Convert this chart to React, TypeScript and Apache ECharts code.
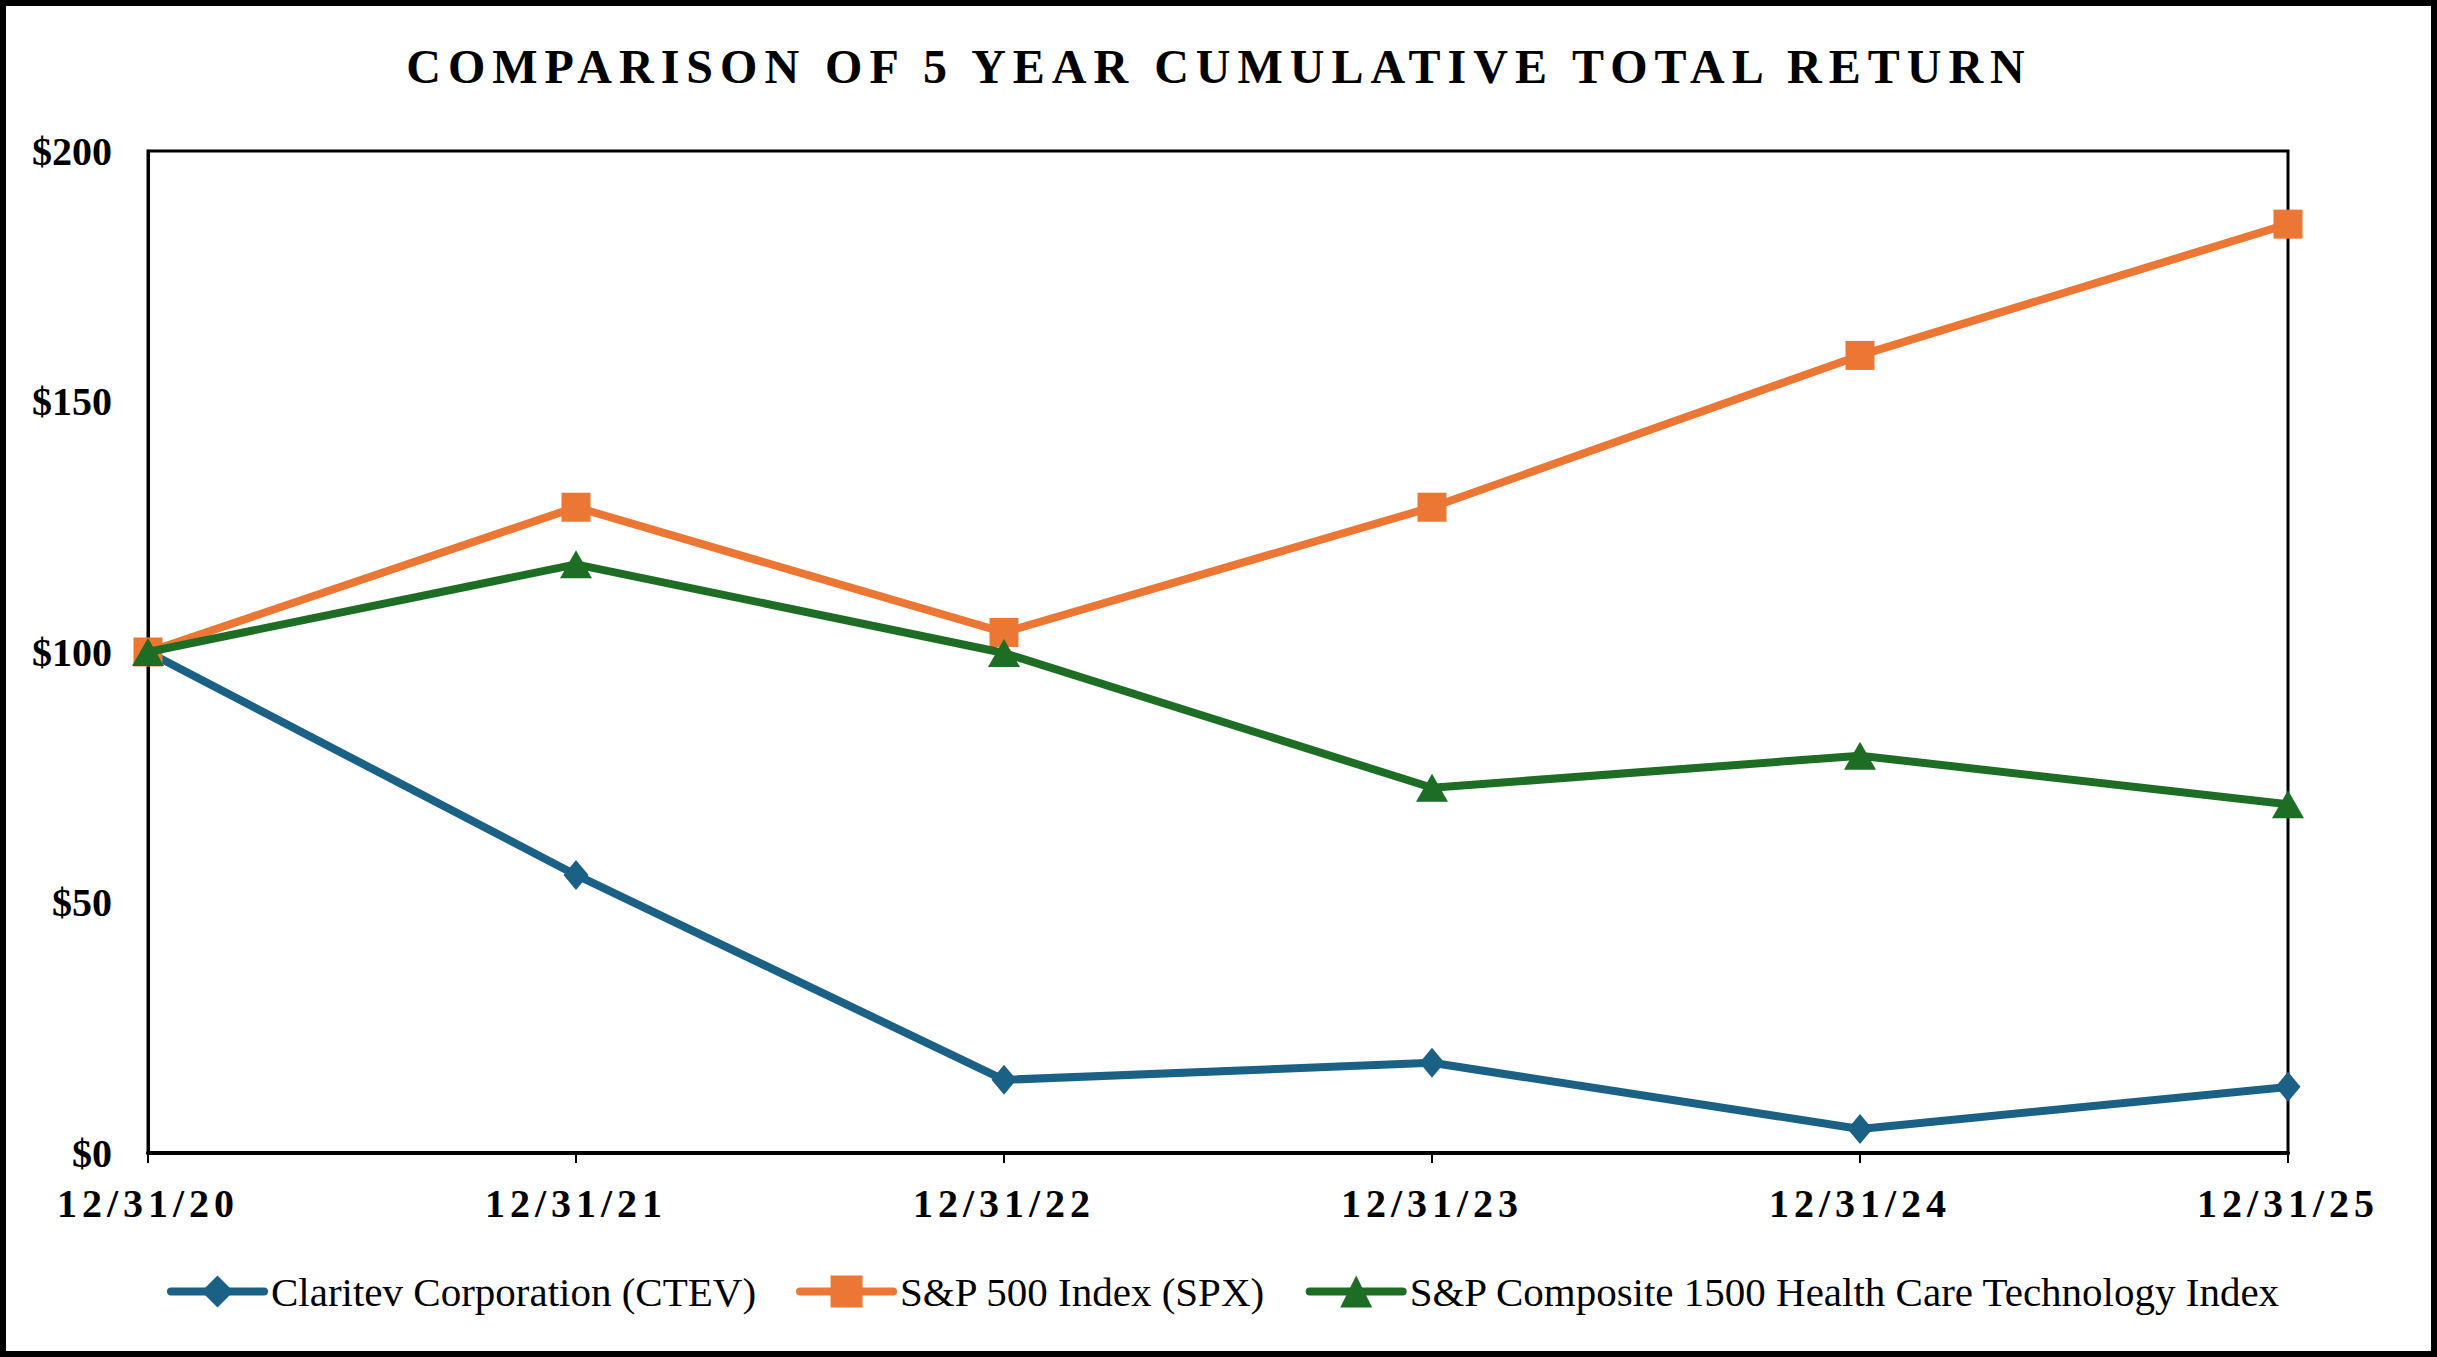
import React, { useEffect, useRef } from "react";
import * as echarts from "echarts";

const TITLE = "COMPARISON OF 5 YEAR CUMULATIVE TOTAL RETURN";
const categories = ["12/31/20", "12/31/21", "12/31/22", "12/31/23", "12/31/24", "12/31/25"];
const seriesNames = [
  "Claritev Corporation (CTEV)",
  "S&P 500 Index (SPX)",
  "S&P Composite 1500 Health Care Technology Index",
];
const ctev = [100, 55.5, 14.6, 18.0, 4.8, 13.2];
const spx = [100, 128.9, 103.9, 128.9, 159.2, 185.4];
const hct = [100, 117.5, 99.8, 72.9, 79.3, 69.6];
const yTicks = [0, 50, 100, 150, 200];

const W = 2437;
const H = 1357;
const FONT = "'Liberation Serif', 'Times New Roman', serif";

export default function App() {
  const ref = useRef<HTMLDivElement>(null);
  useEffect(() => {
    if (!ref.current) return;
    const chart = echarts.init(ref.current, undefined, { renderer: "svg" });
    const colors = ["#1B6185", "#EC7634", "#1D6E24"];
    const symbols = ["diamond", "rect", "triangle"];
    const sizes: any[] = [[25, 30], 29, [32, 28]];
    const datas = [ctev, spx, hct];
    chart.setOption({
      animation: false,
      backgroundColor: "#ffffff",
      grid: {
        left: 148,
        right: W - 2288,
        top: 151,
        bottom: H - 1153,
        show: true,
        borderColor: "#000",
        borderWidth: 3,
        containLabel: false,
      },
      graphic: [
        {
          type: "rect",
          shape: { x: 3, y: 3, width: W - 6, height: H - 6 },
          style: { fill: "none", stroke: "#000", lineWidth: 6 },
          silent: true,
        },
        {
          type: "text",
          x: 1219,
          y: 66,
          style: {
            text: TITLE,
            font: `bold 48px ${FONT}`,
            fill: "#000",
            textAlign: "center",
            textVerticalAlign: "middle",
          },
          silent: true,
        },
      ],
      legend: {
        data: seriesNames,
        top: 1266,
        left: 162,
        itemWidth: 93,
        itemHeight: 40,
        itemGap: 40,
        lineStyle: { width: 8, cap: "round" },
        textStyle: { fontFamily: FONT, fontSize: 41, color: "#000", padding: [0, 0, 0, 2] },
      },
      xAxis: {
        type: "category",
        data: categories,
        boundaryGap: false,
        axisLine: { show: true, lineStyle: { color: "#000", width: 4 } },
        axisTick: { show: true, inside: false, length: 10, lineStyle: { color: "#000", width: 2 } },
        axisLabel: {
          margin: 30,
          fontFamily: FONT,
          fontSize: 40,
          fontWeight: "bold",
          color: "#000",
        },
        splitLine: { show: false },
      },
      yAxis: {
        type: "value",
        min: 0,
        max: 200,
        interval: 50,
        axisLine: { show: true, lineStyle: { color: "#000", width: 3 } },
        axisTick: { show: false },
        splitLine: { show: false },
        axisLabel: {
          margin: 36,
          fontFamily: FONT,
          fontSize: 40,
          fontWeight: "bold",
          color: "#000",
          formatter: (v: number) => (yTicks.includes(v) ? "$" + v : ""),
        },
      },
      series: seriesNames.map((name, i) => ({
        name,
        type: "line",
        data: datas[i],
        symbol: symbols[i],
        symbolSize: sizes[i],
        showSymbol: true,
        lineStyle: { color: colors[i], width: 8 },
        itemStyle: { color: colors[i] },
        z: 2 + i,
      })),
    });

    const applySpacing = () => {
      const dom = ref.current;
      if (!dom) return;
      dom.querySelectorAll("text").forEach((t) => {
        const s = t.textContent || "";
        if (s === TITLE) t.setAttribute("letter-spacing", "7");
        else if (categories.includes(s)) t.setAttribute("letter-spacing", "5");
      });
    };
    applySpacing();
    chart.on("finished", applySpacing);
    return () => {
      chart.dispose();
    };
  }, []);
  return (
    <div
      ref={ref}
      style={{ position: "fixed", left: 0, top: 0, width: W + "px", height: H + "px", background: "#fff" }}
    />
  );
}
